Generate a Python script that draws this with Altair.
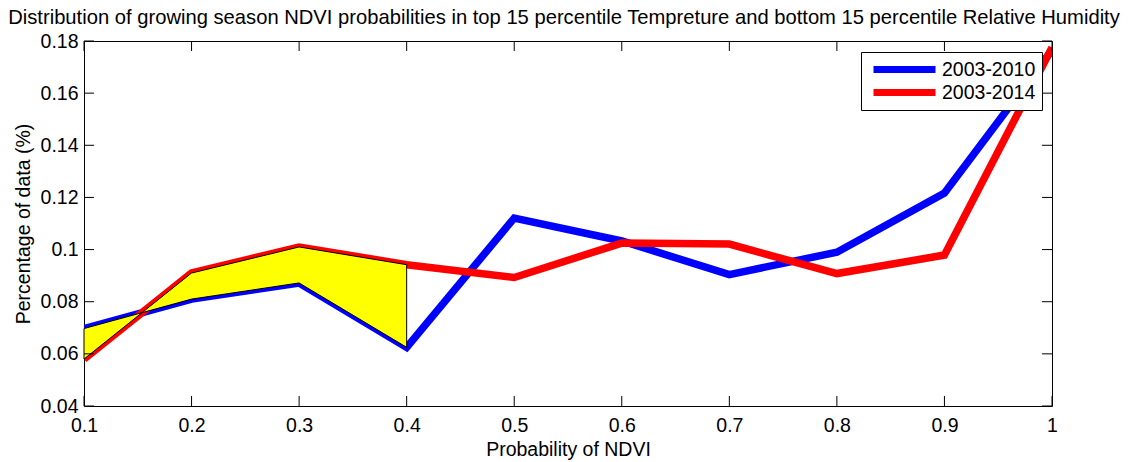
import altair as alt
import pandas as pd

# ---- data ----
ndvi = [0.1, 0.2, 0.3, 0.4, 0.5, 0.6, 0.7, 0.8, 0.9, 1.0]
p_2003_2010 = [0.0697, 0.0810, 0.0872, 0.0625, 0.1121, 0.1033, 0.0904, 0.0990, 0.1217, 0.1765]
p_2003_2014 = [0.0580, 0.0910, 0.1010, 0.0942, 0.0893, 0.1025, 0.1021, 0.0908, 0.0979, 0.1775]
series_names = ["2003-2010", "2003-2014"]
series_colors = ["#0000FF", "#FF0000"]
shade_upto = 0.4
x_ticks = [0.1, 0.2, 0.3, 0.4, 0.5, 0.6, 0.7, 0.8, 0.9, 1.0]
y_ticks = [0.04, 0.06, 0.08, 0.1, 0.12, 0.14, 0.16, 0.18]

title_text = ("Distribution of growing season NDVI probabilities in top 15 percentile "
              "Tempreture and bottom 15 percentile Relative Humidity")

FONT = "Liberation Sans"
FS = 19.5
W, H = 968, 365

long_df = pd.DataFrame({
    "x": ndvi * 2,
    "y": p_2003_2010 + p_2003_2014,
    "series": [series_names[0]] * len(ndvi) + [series_names[1]] * len(ndvi),
})
shade_df = pd.DataFrame({
    "x": [x for x in ndvi if x <= shade_upto + 1e-9],
    "top": [r for x, r in zip(ndvi, p_2003_2014) if x <= shade_upto + 1e-9],
    "bot": [b for x, b in zip(ndvi, p_2003_2010) if x <= shade_upto + 1e-9],
})
xt_df = pd.DataFrame({"x": x_ticks})
yt_df = pd.DataFrame({"y": y_ticks})

xscale = alt.Scale(domain=[0.1, 1.0], nice=False, zero=False)
yscale = alt.Scale(domain=[0.04, 0.18], nice=False, zero=False)

x_axis = alt.Axis(values=x_ticks, format="~g", title="Probability of NDVI",
                  ticks=False, tickSize=0, domain=False, grid=False,
                  labelFont=FONT, labelFontSize=FS, labelColor="black", labelPadding=10,
                  labelFlush=False, labelOverlap=False,
                  titleFont=FONT, titleFontSize=FS, titleFontWeight="normal", titleColor="black",
                  titleBaseline="alphabetic", titleY=49)
y_axis = alt.Axis(values=y_ticks, format="~g", title="Percentage of data (%)",
                  ticks=False, tickSize=0, domain=False, grid=False,
                  labelFont=FONT, labelFontSize=FS, labelColor="black", labelPadding=6,
                  labelFlush=False, labelOverlap=False,
                  titleFont=FONT, titleFontSize=FS, titleFontWeight="normal", titleColor="black",
                  titleBaseline="alphabetic", titleX=-55, titleY=H / 2)

lines = alt.Chart(long_df).mark_line(strokeWidth=7.5, clip=True, strokeJoin="miter").encode(
    x=alt.X("x:Q", scale=xscale, axis=x_axis),
    y=alt.Y("y:Q", scale=yscale, axis=y_axis),
    color=alt.Color("series:N",
                    scale=alt.Scale(domain=series_names, range=series_colors),
                    legend=alt.Legend(orient="none", legendX=777, legendY=11, title=None,
                                      symbolType="stroke", symbolSize=3844, symbolStrokeWidth=7,
                                      clipHeight=23, rowPadding=0, padding=6,
                                      symbolOffset=3, labelOffset=3,
                                      labelFont=FONT, labelFontSize=FS, labelColor="black",
                                      strokeColor="black", fillColor="white", cornerRadius=0)),
)

shade = alt.Chart(shade_df).mark_area(color="#FFFF00", fill="#FFFF00", stroke="black",
                                      strokeWidth=1, opacity=1, fillOpacity=1).encode(
    x=alt.X("x:Q", scale=xscale),
    y=alt.Y("top:Q", scale=yscale),
    y2="bot:Q",
)

tick_style = dict(color="black", strokeWidth=1)
tb = alt.Chart(xt_df).mark_rule(**tick_style).encode(
    x=alt.X("x:Q", scale=xscale), y=alt.value(H), y2=alt.value(H - 10))
tt = alt.Chart(xt_df).mark_rule(**tick_style).encode(
    x=alt.X("x:Q", scale=xscale), y=alt.value(0), y2=alt.value(10))
tl = alt.Chart(yt_df).mark_rule(**tick_style).encode(
    y=alt.Y("y:Q", scale=yscale), x=alt.value(0), x2=alt.value(10))
tr = alt.Chart(yt_df).mark_rule(**tick_style).encode(
    y=alt.Y("y:Q", scale=yscale), x=alt.value(W), x2=alt.value(W - 10))

chart = alt.layer(lines, shade, tb, tt, tl, tr).properties(
    width=W, height=H,
    title=alt.TitleParams(text=title_text, font=FONT, fontSize=20.2, fontWeight="normal",
                          color="black", anchor="middle", baseline="alphabetic",
                          frame="group", offset=15, dx=-4, dy=28),
    autosize=alt.AutoSizeParams(type="none"),
    padding={"left": 84, "top": 41, "right": 76, "bottom": 56},
    background="white",
).configure_view(stroke="black", strokeWidth=1)

chart.save("out.html", embed_options={"renderer": "svg", "actions": False})
